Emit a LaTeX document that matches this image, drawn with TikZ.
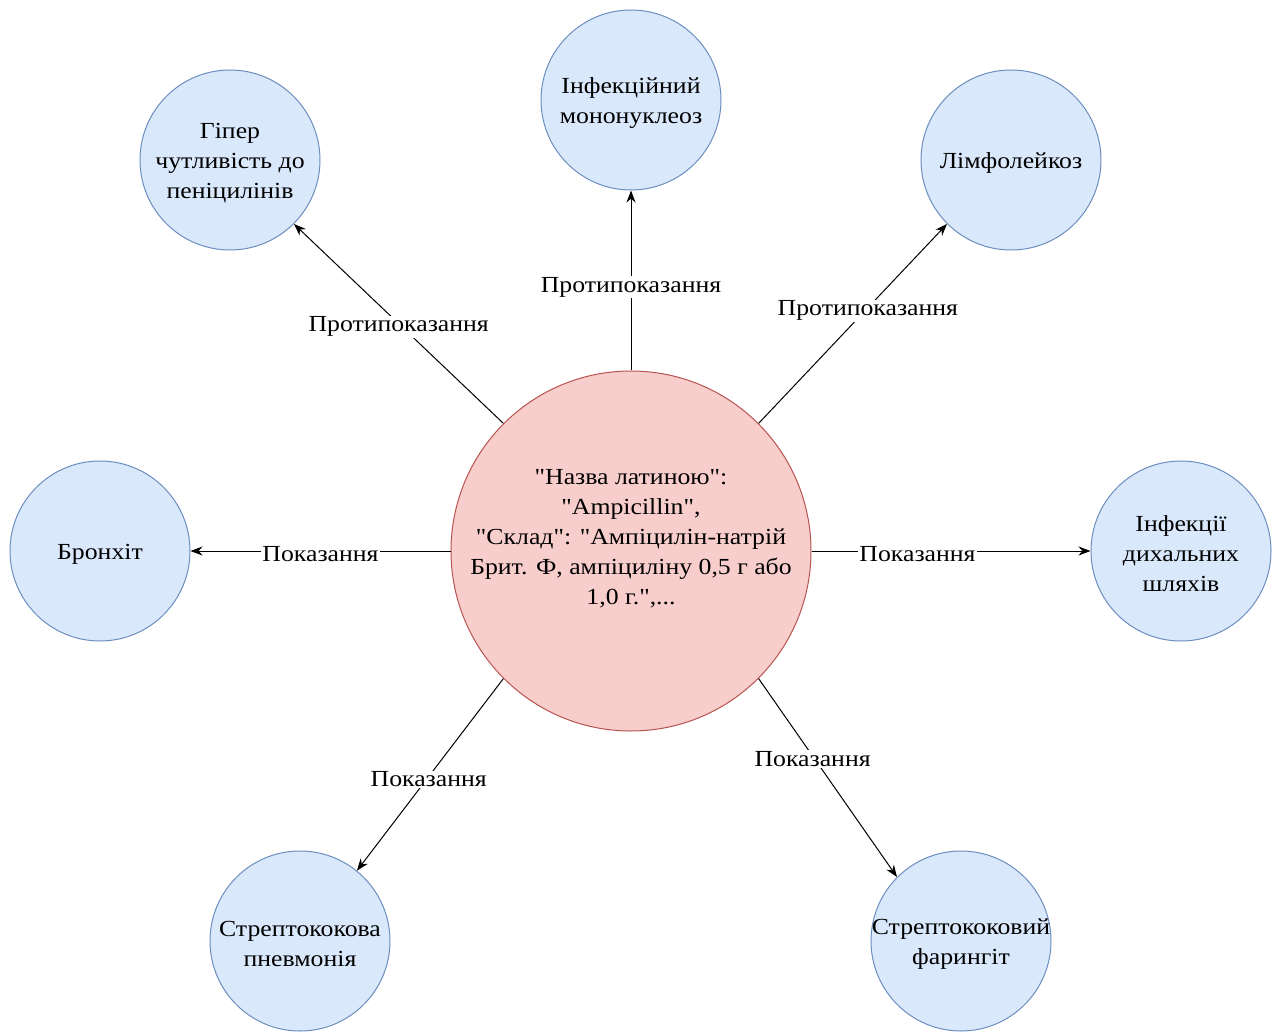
\documentclass[tikz,border=0pt]{standalone}
\usepackage{fontspec}
% family without TeX ligatures so that " stays a straight quote
\newfontfamily\diagfont{Liberation Serif}[FakeStretch=1.12]
\usetikzlibrary{arrows.meta}
\newcommand{\dq}{"}
\begin{document}
\begin{tikzpicture}[x=1pt,y=-1pt,
  every node/.style={font=\diagfont\fontsize{23}{30}\selectfont},
  drug/.style={circle,draw={rgb,255:red,184;green,84;blue,80},fill={rgb,255:red,248;green,206;blue,204},minimum size=360pt,inner sep=0pt,line width=1pt},
  item/.style={circle,draw={rgb,255:red,108;green,142;blue,191},fill={rgb,255:red,218;green,232;blue,252},minimum size=180pt,inner sep=0pt,line width=1pt},
  itemtext/.style={align=center,inner sep=0pt,yshift=-3pt},
  rel/.style={-{Stealth[length=12pt,width=9pt]},line width=1pt,black},
  lbl/.style={fill=white,inner sep=1pt,yshift=-3pt}]
\useasboundingbox (0,0) rectangle (1275,1032);
% central drug record
\node[drug] (c) at (631,551) {};
\node[align=center] (ctext) at (631,539)
  {\dq Назва латиною\dq:\\\dq Ampicillin\dq,\\\dq Склад\dq: \dq Ампіцилін-натрій\\Брит. Ф, ампіциліну 0,5 г або\\1,0 г.\dq,...};
% related conditions
\node[item] (hyp) at (230,160) {};
\node[itemtext] (hyptext) at (hyp) {Гіпер\\чутливість до\\пеніцилінів};
\node[item] (mono) at (631,100) {};
\node[itemtext] (monotext) at (mono) {Інфекційний\\мононуклеоз};
\node[item] (lymph) at (1011,160) {};
\node[itemtext] (lymphtext) at (lymph) {Лімфолейкоз};
\node[item] (bron) at (100,551) {};
\node[itemtext] (brontext) at (bron) {Бронхіт};
\node[item] (resp) at (1181,551) {};
\node[itemtext] (resptext) at (resp) {Інфекції\\дихальних\\шляхів};
\node[item] (pneu) at (300,941) {};
\node[itemtext] (pneutext) at (pneu) {Стрептококова\\пневмонія};
\node[item] (phar) at (961,941) {};
\node[itemtext] (phartext) at (phar) {Стрептококовий\\фарингіт};
% relations
\draw[rel] (c.135) -- node[lbl,pos=0.5] {Протипоказання} (hyp.-45);
\draw[rel] (c.north) -- node[lbl,pos=0.48] {Протипоказання} (mono.south);
\draw[rel] (c.45) -- node[lbl,pos=0.58] {Протипоказання} (lymph.-135);
\draw[rel] (c.west) -- node[lbl,pos=0.5] {Показання} (bron.east);
\draw[rel] (c.east) -- node[lbl,pos=0.38] {Показання} (resp.west);
\draw[rel] (c.-135) -- node[lbl,pos=0.51] {Показання} (pneu.51);
\draw[rel] (c.-45) -- node[lbl,pos=0.39] {Показання} (phar.135);
\end{tikzpicture}
\end{document}
